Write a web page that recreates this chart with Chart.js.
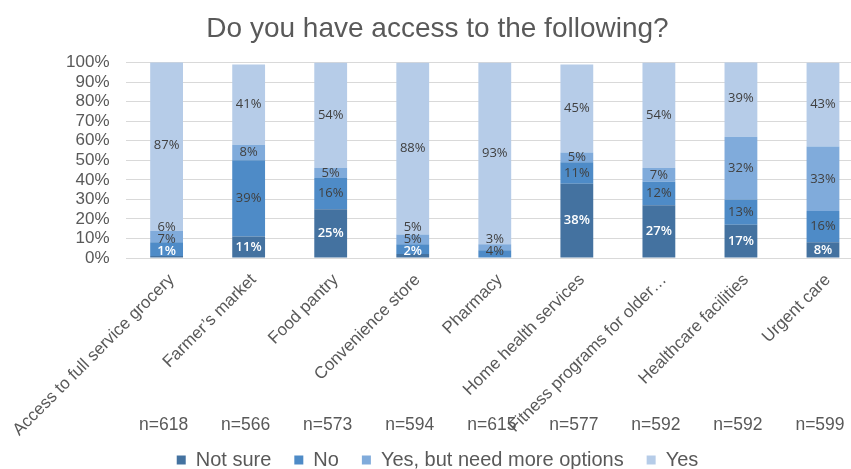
<!DOCTYPE html>
<html>
<head>
<meta charset="utf-8">
<script src="https://cdn.jsdelivr.net/npm/chart.js@4/dist/chart.umd.min.js"></script>
<style>
  html, body { margin: 0; padding: 0; background: #fff; overflow: hidden; }
  #wrap { width: 870px; height: 469px; position: relative; }
</style>
</head>
<body>
<div id="wrap"><canvas id="chart"></canvas></div>
<script>
// Survey categories and respondent counts
const categories = [
  'Access to full service grocery',
  'Farmer\u2019s market',
  'Food pantry',
  'Convenience store',
  'Pharmacy',
  'Home health services',
  'Fitness programs for older\u2026',
  'Healthcare facilities',
  'Urgent care'
];
const sampleSizes = [618, 566, 573, 594, 615, 577, 592, 592, 599];

// Response shares (%) per category
const notSure     = [1, 11, 25, 2, 0, 38, 27, 17, 8];
const no          = [7, 39, 16, 5, 4, 11, 12, 13, 16];
const yesNeedMore = [6, 8, 5, 5, 3, 5, 7, 32, 33];
const yes         = [87, 41, 54, 88, 93, 45, 54, 39, 43];

const seriesNames  = ['Not sure', 'No', 'Yes, but need more options', 'Yes'];
const seriesColors = ['#4472a0', '#4e8bc7', '#80abdb', '#b6cce8'];

const FONT = '"Liberation Sans", Arial, sans-serif';
const TEXT = '#595959';

// Percentage labels centred in each segment, nudged apart near the axis
const segmentLabels = {
  id: 'segmentLabels',
  afterDatasetsDraw(chart) {
    const ctx = chart.ctx;
    const bottom = chart.chartArea.bottom;
    ctx.save();
    ctx.textAlign = 'center';
    ctx.textBaseline = 'middle';
    chart.data.labels.forEach((_, i) => {
      let lastY = Infinity;
      chart.data.datasets.forEach((ds, d) => {
        const v = ds.data[i];
        if (!v) return;
        const el = chart.getDatasetMeta(d).data[i];
        let y = (el.y + el.base) / 2;
        y = Math.min(y, bottom - 7, lastY - 12);
        lastY = y;
        ctx.font = (d === 0 ? '600 ' : '') + '13px "Open Sans", sans-serif';
        ctx.fillStyle = d === 0 ? '#ffffff' : '#404040';
        ctx.fillText(v + '%', el.x, y);
      });
    });
    ctx.restore();
  }
};

// Respondent counts under the category labels
const sampleSizeRow = {
  id: 'sampleSizeRow',
  afterDraw(chart) {
    const ctx = chart.ctx;
    const xs = chart.scales.x;
    ctx.save();
    ctx.font = '17.5px ' + FONT;
    ctx.fillStyle = TEXT;
    ctx.textAlign = 'center';
    ctx.textBaseline = 'middle';
    sampleSizes.forEach((n, i) => {
      ctx.fillText('n=' + n, xs.getPixelForValue(i) - 3, chart.chartArea.bottom + 167);
    });
    ctx.restore();
  }
};

const datasets = [notSure, no, yesNeedMore, yes].map((values, k) => ({
  label: seriesNames[k],
  data: values,
  backgroundColor: seriesColors[k],
  borderWidth: 0,
  categoryPercentage: 1.0,
  barPercentage: 0.4
}));

new Chart(document.getElementById('chart'), {
  type: 'bar',
  data: { labels: categories, datasets },
  plugins: [segmentLabels, sampleSizeRow],
  options: {
    responsive: true,
    maintainAspectRatio: false,
    animation: false,
    layout: { padding: { left: 11, right: 6, top: 0, bottom: -11 } },
    plugins: {
      title: {
        display: true,
        text: 'Do you have access to the following?',
        color: TEXT,
        font: { family: FONT, size: 28, weight: 'normal' },
        padding: { top: 12, bottom: 17 }
      },
      legend: {
        position: 'bottom',
        labels: {
          color: TEXT,
          font: { family: FONT, size: 20 },
          boxWidth: 9,
          boxHeight: 9,
          padding: 23
        }
      },
      tooltip: { enabled: false }
    },
    scales: {
      x: {
        stacked: true,
        grid: { display: false },
        border: { display: false },
        ticks: {
          color: TEXT,
          font: { family: FONT, size: 17 },
          minRotation: 45,
          maxRotation: 45,
          autoSkip: false,
          padding: 4,
          labelOffset: 5
        },
        afterFit(scale) {
          scale.height = 169;
          // let the long rotated labels run past the axis box instead of being cut
          scale._computeLabelArea = () => undefined;
        }
      },
      y: {
        stacked: true,
        min: 0,
        max: 100,
        grid: { color: '#d9d9d9', drawTicks: false },
        border: { display: false },
        ticks: {
          stepSize: 10,
          autoSkip: false,
          color: TEXT,
          font: { family: FONT, size: 17 },
          padding: 16,
          callback: v => v + '%'
        },
        afterFit(scale) { scale.width = 114; }
      }
    }
  }
});
</script>
</body>
</html>
